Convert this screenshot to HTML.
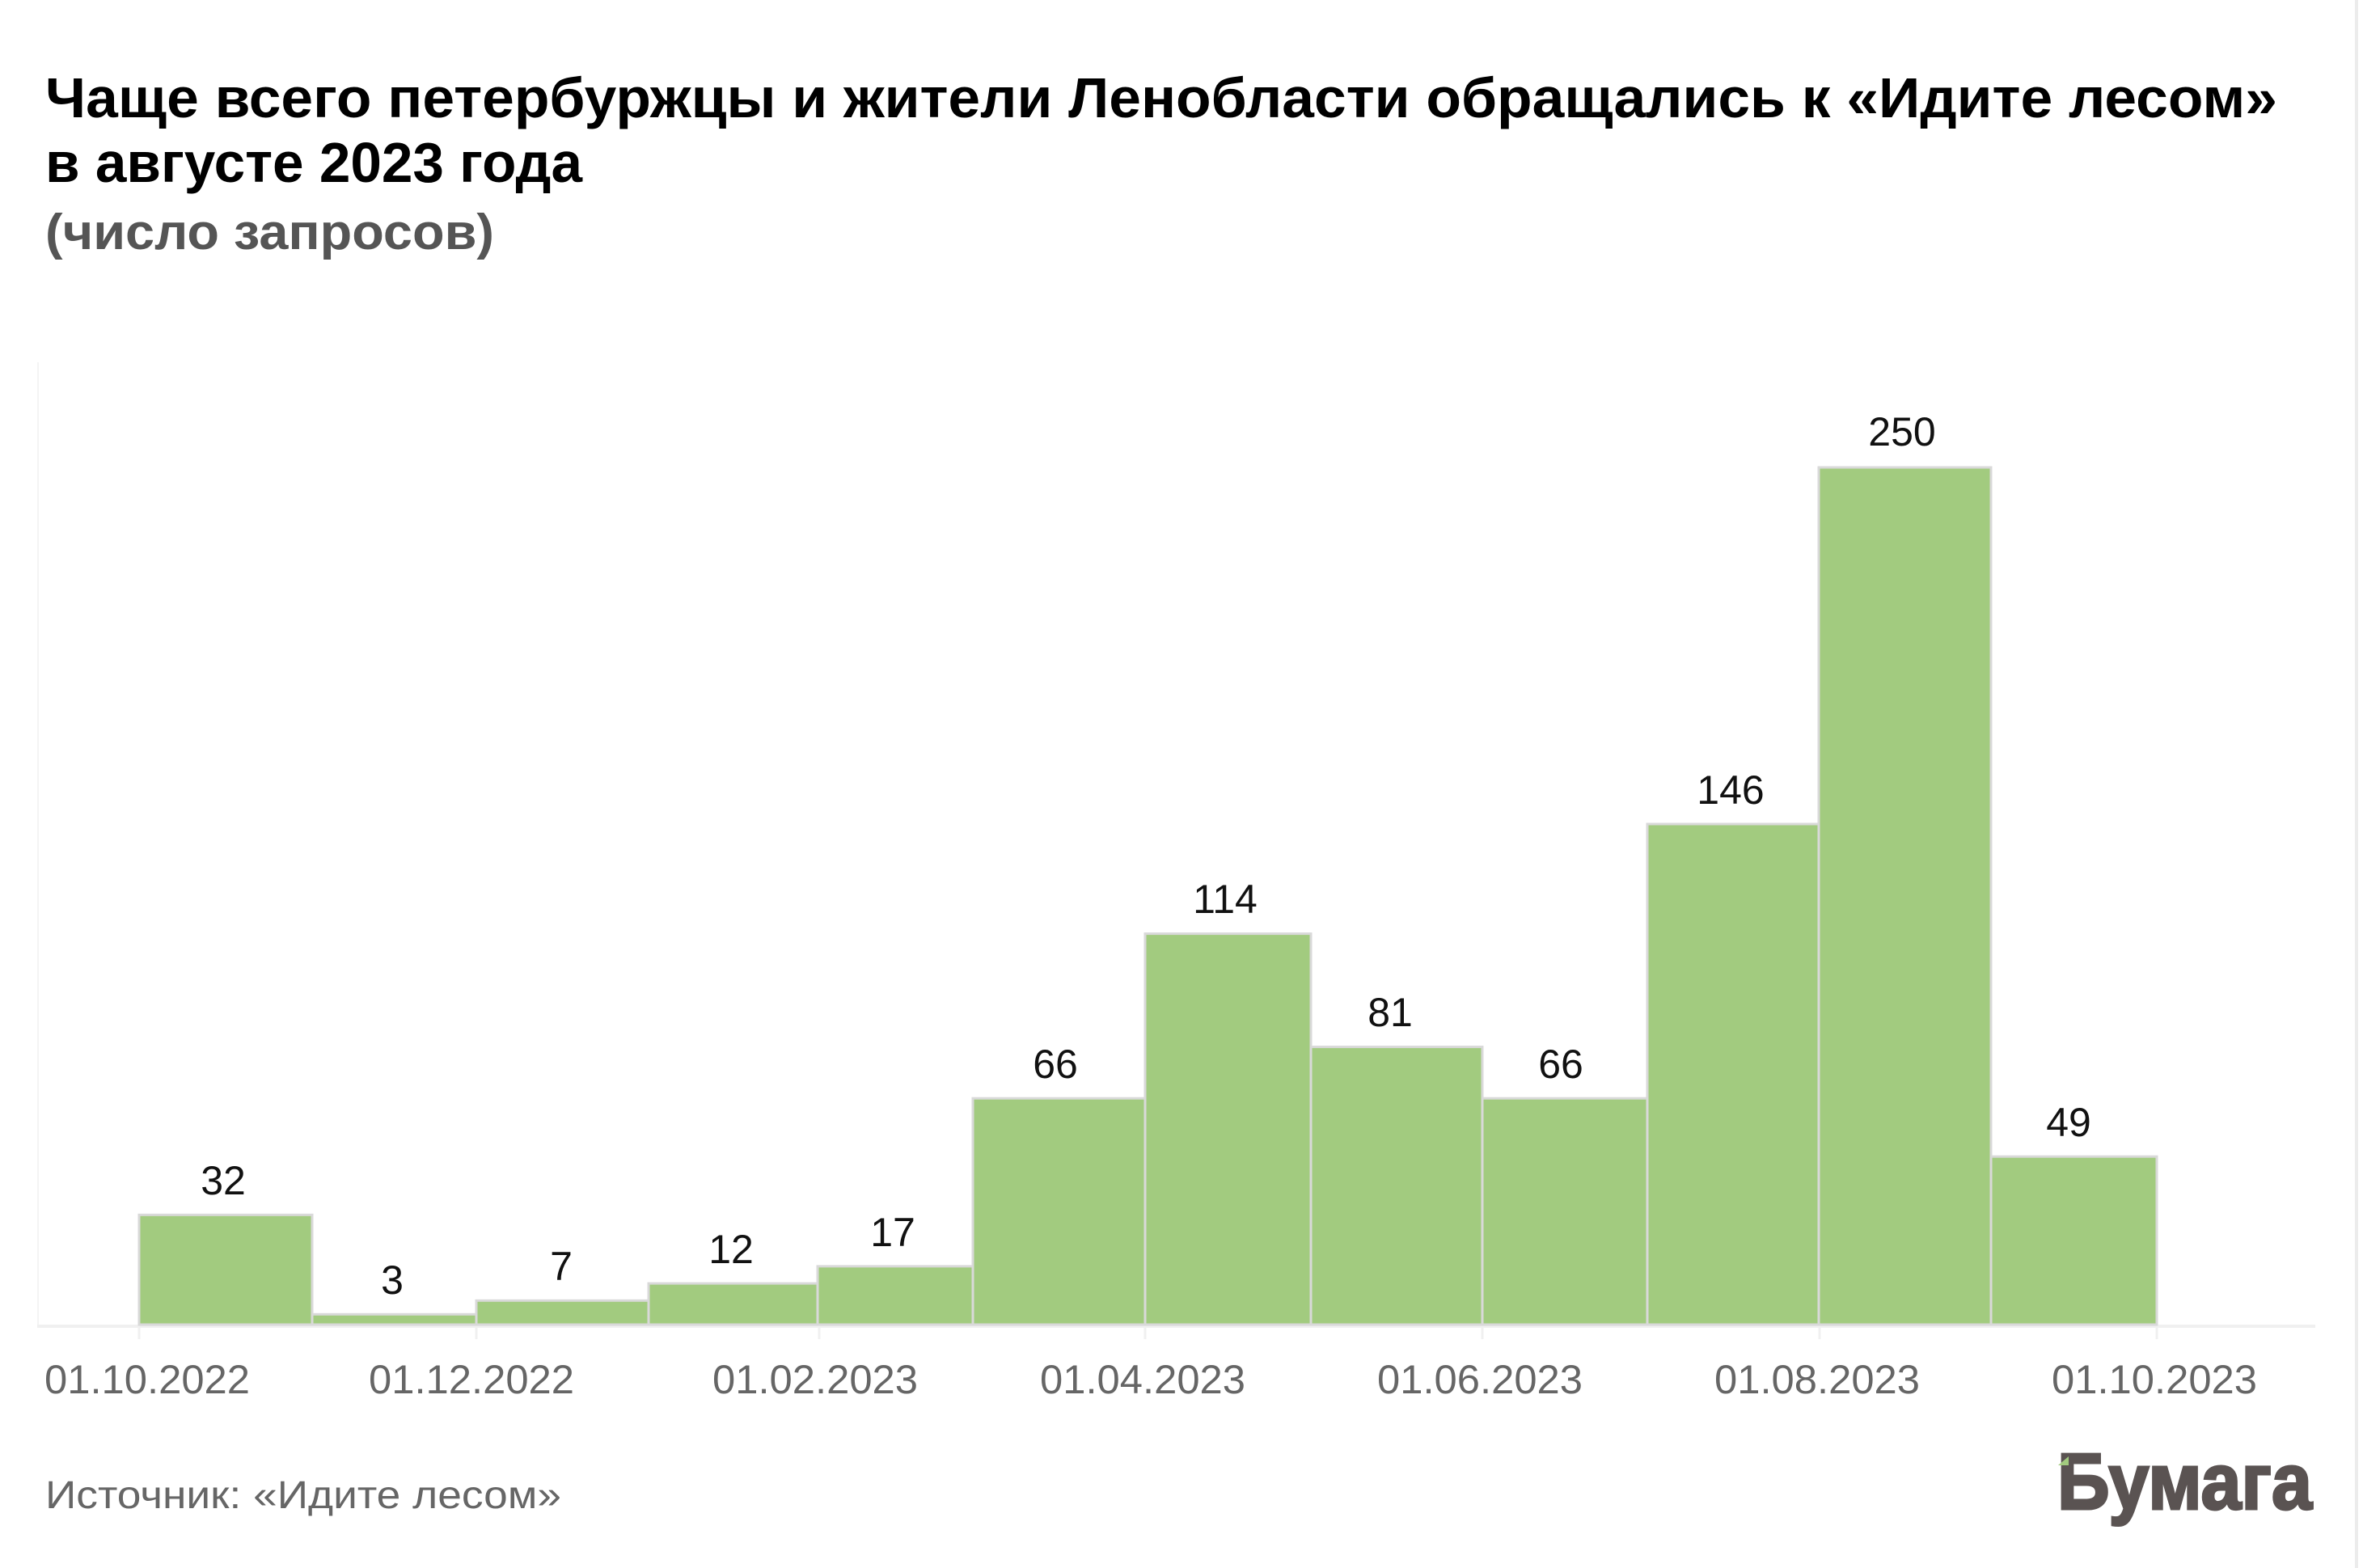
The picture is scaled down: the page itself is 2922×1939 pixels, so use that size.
<!DOCTYPE html>
<html><head><meta charset="utf-8"><style>
html,body{margin:0;padding:0;background:#fff;}
svg{display:block;}
text{font-family:"Liberation Sans","DejaVu Sans",sans-serif;}
</style></head><body>
<svg width="2922" height="1939" viewBox="0 0 2922 1939" xmlns="http://www.w3.org/2000/svg">
<rect width="2922" height="1939" fill="#fff"/>
<text x="56" y="145" font-size="70" font-weight="bold" fill="#000" textLength="2760" lengthAdjust="spacingAndGlyphs">Чаще всего петербуржцы и жители Ленобласти обращались к «Идите лесом»</text>
<text x="56" y="225" font-size="70" font-weight="bold" fill="#000" textLength="664" lengthAdjust="spacingAndGlyphs">в августе 2023 года</text>
<text x="56" y="308" font-size="62" font-weight="bold" fill="#555" textLength="555" lengthAdjust="spacingAndGlyphs">(число запросов)</text>
<line x1="2914" y1="0" x2="2914" y2="1939" stroke="#ececec" stroke-width="4"/>
<line x1="47" y1="448" x2="47" y2="1638" stroke="#f4f4f4" stroke-width="2"/>
<line x1="46" y1="1640" x2="2863" y2="1640" stroke="#f0f0f0" stroke-width="4"/>
<g stroke="#f0f0f0" stroke-width="3">
<line x1="172" y1="1642" x2="172" y2="1656"/><line x1="589" y1="1642" x2="589" y2="1656"/><line x1="1013" y1="1642" x2="1013" y2="1656"/><line x1="1416" y1="1642" x2="1416" y2="1656"/><line x1="1833" y1="1642" x2="1833" y2="1656"/><line x1="2250" y1="1642" x2="2250" y2="1656"/><line x1="2667" y1="1642" x2="2667" y2="1656"/>
</g>
<g fill="#a2cb7f" stroke="#d9d9d9" stroke-width="3">
<rect x="172" y="1502.3" width="214" height="135.7"/>
<rect x="386" y="1625.3" width="203" height="12.7"/>
<rect x="589" y="1608.3" width="213" height="29.7"/>
<rect x="802" y="1587.1" width="209" height="50.9"/>
<rect x="1011" y="1565.9" width="192" height="72.1"/>
<rect x="1203" y="1358.2" width="213" height="279.8"/>
<rect x="1416" y="1154.6" width="205" height="483.4"/>
<rect x="1621" y="1294.6" width="212" height="343.4"/>
<rect x="1833" y="1358.2" width="204" height="279.8"/>
<rect x="2037" y="1019" width="212" height="619"/>
<rect x="2249" y="578" width="213" height="1060"/>
<rect x="2462" y="1430.2" width="205" height="207.8"/>
</g>
<g font-size="50" fill="#111" text-anchor="middle">
<text x="276" y="1477">32</text>
<text x="485" y="1600">3</text>
<text x="694" y="1583">7</text>
<text x="904" y="1562">12</text>
<text x="1104" y="1541">17</text>
<text x="1305" y="1333">66</text>
<text x="1515" y="1129">114</text>
<text x="1719" y="1269">81</text>
<text x="1930" y="1333">66</text>
<text x="2140" y="994">146</text>
<text x="2352" y="551">250</text>
<text x="2558" y="1405">49</text>
</g>
<g font-size="50" fill="#666" text-anchor="middle">
<text x="182" y="1723" textLength="254" lengthAdjust="spacingAndGlyphs">01.10.2022</text>
<text x="583" y="1723" textLength="254" lengthAdjust="spacingAndGlyphs">01.12.2022</text>
<text x="1008" y="1723" textLength="254" lengthAdjust="spacingAndGlyphs">01.02.2023</text>
<text x="1413" y="1723" textLength="254" lengthAdjust="spacingAndGlyphs">01.04.2023</text>
<text x="1830" y="1723" textLength="254" lengthAdjust="spacingAndGlyphs">01.06.2023</text>
<text x="2247" y="1723" textLength="254" lengthAdjust="spacingAndGlyphs">01.08.2023</text>
<text x="2664" y="1723" textLength="254" lengthAdjust="spacingAndGlyphs">01.10.2023</text>
</g>
<text x="56" y="1865" font-size="48" fill="#666" textLength="638" lengthAdjust="spacingAndGlyphs">Источник: «Идите лесом»</text>
<text x="2544" y="1866" font-size="98" font-weight="bold" fill="#5a5352" stroke="#5a5352" stroke-width="3" textLength="315" lengthAdjust="spacingAndGlyphs">Бумага</text>
<polygon points="2545,1812 2558,1801 2558,1812" fill="#a2cb7f"/>
</svg>
</body></html>
